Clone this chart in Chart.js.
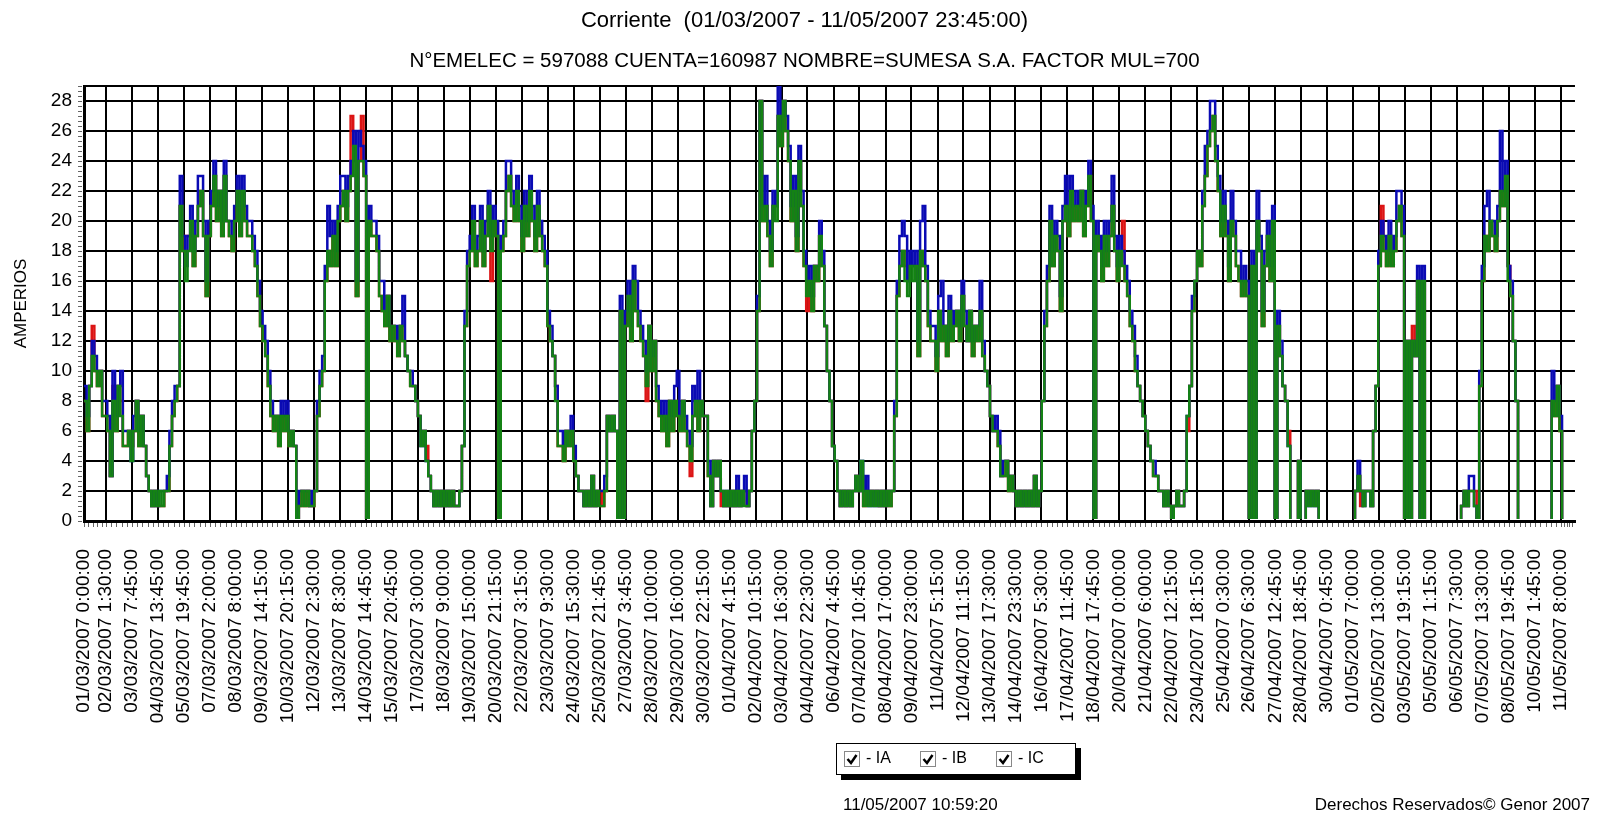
<!DOCTYPE html>
<html>
<head>
<meta charset="utf-8">
<title>Corriente</title>
<script src="https://cdn.jsdelivr.net/npm/chart.js@4.4.1/dist/chart.umd.min.js"></script>
<style>
    html, body { margin: 0; padding: 0; background: #fff; }
    #wrap { width: 1612px; height: 817px; }
</style>
</head>
<body>
<div id="wrap"><canvas id="corrienteChart" width="1612" height="817"></canvas></div>
<script>
// one reading every 3 hours, starting 01/03/2007 0:00
const SAMPLE_HOURS = 3;
const RANGE_HOURS = 1728;

// IC (green)
const ic = [
    8,6,9,11,10,9,10,7, 7,6,3,8,6,9,7,5, 5,6,4,6,8,5,7,5, 3,2,1,2,1,2,1,2,
    2,5,7,8,9,21,18,16, 18,20,17,19,21,22,19,15, 19,21,23,20,22,19,23,20, 19,18,20,22,19,22,20,19,
    19,18,17,15,13,12,11,9, 7,6,7,5,7,6,7,5, 6,5,0,1,2,1,2,1, 1,2,7,9,10,16,18,17,
    19,17,20,21,22,20,22,23, 25,15,24,24,23,0,20,19, 19,18,15,14,13,15,12,13, 12,11,13,12,11,10,9,9,
    8,7,5,6,4,3,2,1, 2,1,2,1,2,1,2,1, 1,2,5,13,17,18,20,17, 18,20,17,19,21,18,20,19,
    0,18,19,22,23,21,20,22, 20,18,21,19,22,20,18,21, 19,18,17,13,12,11,8,5, 5,4,6,5,6,4,3,2,
    2,1,2,1,3,1,2,1, 1,2,7,6,7,6,0,14, 0,13,15,12,16,14,13,12, 11,9,13,10,12,8,7,6,
    7,5,8,6,8,7,6,8, 6,5,4,7,8,6,8,7, 7,3,1,4,3,4,2,1, 2,1,2,1,2,1,2,1,
    1,2,6,8,14,28,20,21, 19,17,21,20,27,25,28,26, 24,20,22,18,24,21,17,15, 16,14,17,16,19,17,13,10,
    8,5,4,2,1,2,1,2, 1,2,3,2,4,1,2,1, 2,1,2,1,2,1,2,1, 2,7,15,17,18,16,15,17,
    16,17,11,18,17,16,13,12, 12,10,14,12,13,11,14,12, 13,14,12,15,13,12,14,11, 13,12,14,11,10,9,7,6,
    6,5,3,3,4,2,3,2, 1,2,1,2,1,2,1,3, 1,2,8,13,16,20,17,19, 18,14,20,21,19,22,20,21,
    20,22,19,21,23,20,0,19, 18,16,19,17,19,21,18,16, 18,17,16,15,13,12,10,9, 8,7,6,5,4,3,3,2,
    2,1,2,1,0,1,2,1, 1,2,7,9,14,16,18,17, 21,23,25,26,27,24,22,19, 21,19,16,20,19,17,16,15,
    16,15,0,17,0,20,18,13, 17,19,16,20,0,13,11,9, 8,5,0,0,0,4,0,0, 2,1,2,1,2,0,0,0,
    0,0,0,0,0,0,0,0, 0,0,0,2,3,2,1,2, 2,1,6,9,17,19,18,17, 19,17,18,20,21,19,0,12,
    0,12,11,16,0,16,0,0, 0,0,0,0,0,0,0,0, 0,0,0,0,1,2,1,2, 2,1,0,9,16,19,18,20,
    19,18,20,22,21,23,16,15, 12,8,0,0,0,0,0,0, 0,0,0,0,0,0,0,8, 7,9,6,0,0,0,0,0
];

// IB (blue)
const ib = [
    9,7,9,12,11,10,10,8, 8,7,3,10,7,9,10,6, 6,6,4,7,8,6,7,5, 3,2,1,2,1,2,2,2,
    3,6,8,9,9,23,19,17, 19,21,18,20,23,23,20,16, 20,22,24,21,22,20,24,20, 20,19,21,23,20,23,21,20,
    20,19,18,16,14,13,12,10, 8,7,7,6,8,7,8,6, 6,5,0,2,2,2,2,1, 2,2,8,10,11,17,21,19,
    20,18,21,23,23,21,23,24, 26,16,26,25,24,0,21,20, 20,19,16,16,14,15,13,13, 13,12,13,15,11,10,10,9,
    8,7,5,6,4,3,2,1, 2,1,2,1,2,1,2,1, 1,2,5,14,18,19,21,18, 19,21,18,20,22,19,21,20,
    0,19,20,24,24,22,21,23, 21,19,22,20,23,21,19,22, 20,19,18,14,13,11,9,6, 6,5,6,6,7,5,3,2,
    2,1,2,1,3,1,2,2, 2,3,7,6,7,6,0,15, 0,14,16,13,17,16,14,13, 12,10,13,11,12,9,8,7,
    8,6,8,7,9,10,7,8, 7,6,5,9,8,10,8,7, 7,4,1,4,3,4,2,1, 2,1,2,1,3,1,2,3,
    1,2,6,8,15,28,21,23, 20,18,22,21,29,26,28,27, 25,21,23,19,25,22,18,16, 17,15,17,17,20,18,13,10,
    8,5,4,2,1,2,1,2, 1,2,3,2,4,2,3,1, 2,1,2,1,2,1,2,2, 2,8,16,19,20,19,16,18,
    17,18,12,20,21,17,14,13, 13,11,15,16,13,12,15,13, 14,14,13,16,14,12,14,12, 13,13,16,12,10,9,7,6,
    7,6,3,4,4,3,3,2, 1,2,1,2,1,2,1,3, 1,2,8,14,17,21,18,20, 19,15,21,23,20,23,21,22,
    21,22,20,22,24,21,0,20, 19,17,20,18,20,23,19,17, 19,18,17,16,14,13,11,9, 8,7,6,5,4,4,3,2,
    2,1,2,1,0,1,2,1, 1,2,7,9,15,16,18,18, 22,25,26,28,28,25,23,20, 22,20,17,22,20,18,18,16,
    17,16,0,18,0,22,19,14, 18,20,17,21,0,14,12,9, 8,5,0,0,0,4,0,0, 2,1,2,1,2,0,0,0,
    0,0,0,0,0,0,0,0, 0,0,0,2,4,2,1,2, 2,1,6,9,18,20,19,18, 20,18,19,22,22,21,0,12,
    0,12,11,17,0,17,0,0, 0,0,0,0,0,0,0,0, 0,0,0,0,1,2,1,3, 3,1,0,10,17,21,22,20,
    20,19,21,26,22,24,17,16, 12,8,0,0,0,0,0,0, 0,0,0,0,0,0,0,10, 8,9,7,0,0,0,0,0
];

// IA (red)
const ia = [
    8,6,9,13,10,9,10,7, 7,6,3,9,6,9,8,5, 5,6,5,6,8,5,7,5, 3,2,1,2,1,1,1,2,
    2,5,7,8,9,21,18,19, 19,19,17,19,21,22,19,15, 19,21,23,20,22,19,23,20, 19,18,20,22,19,22,20,19,
    19,18,17,15,13,12,11,9, 7,6,7,5,7,6,7,5, 6,5,0,1,2,1,2,1, 1,2,7,9,10,16,18,17,
    19,17,20,21,22,20,22,27, 25,15,24,27,23,0,20,19, 19,18,15,14,13,15,12,13, 12,11,13,12,11,10,9,9,
    8,7,6,6,5,3,2,1, 2,1,2,1,2,1,2,1, 1,2,5,13,17,18,20,17, 18,20,17,19,21,16,20,19,
    0,18,19,22,23,21,20,22, 20,18,21,19,22,20,18,21, 19,18,17,13,12,11,9,5, 5,4,6,5,6,4,3,2,
    2,1,2,1,3,1,2,2, 1,2,7,6,7,6,0,14, 0,13,15,12,16,14,13,12, 11,8,13,10,12,8,7,6,
    7,5,8,6,8,7,6,8, 6,5,3,7,8,6,8,7, 7,3,1,4,3,4,1,1, 1,1,2,1,2,1,2,2,
    1,2,6,8,14,28,20,21, 19,17,21,21,27,25,28,26, 24,20,22,18,24,21,17,14, 16,14,17,16,19,17,13,10,
    8,5,4,2,1,2,1,2, 1,2,3,2,3,1,2,2, 2,2,2,1,2,1,2,1, 2,7,15,17,18,17,16,17,
    17,17,11,18,17,16,13,12, 12,10,14,12,13,11,14,12, 13,14,12,15,13,12,14,11, 13,12,14,11,10,9,7,6,
    6,5,3,3,4,2,3,2, 1,2,1,2,1,2,1,3, 1,2,8,13,16,20,17,19, 18,14,20,21,19,22,20,21,
    20,22,19,21,23,20,0,19, 18,16,19,17,19,21,18,16, 18,20,16,15,13,12,10,9, 8,7,6,5,4,3,3,2,
    2,1,2,1,0,1,2,1, 1,2,6,9,14,16,18,17, 21,23,25,26,27,24,22,19, 21,19,16,20,19,17,16,15,
    16,15,0,17,0,20,18,13, 17,19,16,20,0,13,11,9, 8,6,0,0,0,4,0,0, 2,2,2,2,2,0,0,0,
    0,0,0,0,0,0,0,0, 0,0,0,2,3,1,2,2, 2,1,6,9,17,21,18,17, 19,17,18,20,21,19,0,12,
    0,13,11,16,0,16,0,0, 0,0,0,0,0,0,0,0, 0,0,0,0,1,2,1,2, 2,2,0,9,16,19,18,20,
    19,18,20,22,21,23,17,15, 12,8,0,0,0,0,0,0, 0,0,0,0,0,0,0,8, 7,9,6,0,0,0,0,0
];

const xTickLabels = [
    "01/03/2007 0:00:00", "02/03/2007 1:30:00", "03/03/2007 7:45:00", "04/03/2007 13:45:00",
    "05/03/2007 19:45:00", "07/03/2007 2:00:00", "08/03/2007 8:00:00", "09/03/2007 14:15:00",
    "10/03/2007 20:15:00", "12/03/2007 2:30:00", "13/03/2007 8:30:00", "14/03/2007 14:45:00",
    "15/03/2007 20:45:00", "17/03/2007 3:00:00", "18/03/2007 9:00:00", "19/03/2007 15:00:00",
    "20/03/2007 21:15:00", "22/03/2007 3:15:00", "23/03/2007 9:30:00", "24/03/2007 15:30:00",
    "25/03/2007 21:45:00", "27/03/2007 3:45:00", "28/03/2007 10:00:00", "29/03/2007 16:00:00",
    "30/03/2007 22:15:00", "01/04/2007 4:15:00", "02/04/2007 10:15:00", "03/04/2007 16:30:00",
    "04/04/2007 22:30:00", "06/04/2007 4:45:00", "07/04/2007 10:45:00", "08/04/2007 17:00:00",
    "09/04/2007 23:00:00", "11/04/2007 5:15:00", "12/04/2007 11:15:00", "13/04/2007 17:30:00",
    "14/04/2007 23:30:00", "16/04/2007 5:30:00", "17/04/2007 11:45:00", "18/04/2007 17:45:00",
    "20/04/2007 0:00:00", "21/04/2007 6:00:00", "22/04/2007 12:15:00", "23/04/2007 18:15:00",
    "25/04/2007 0:30:00", "26/04/2007 6:30:00", "27/04/2007 12:45:00", "28/04/2007 18:45:00",
    "30/04/2007 0:45:00", "01/05/2007 7:00:00", "02/05/2007 13:00:00", "03/05/2007 19:15:00",
    "05/05/2007 1:15:00", "06/05/2007 7:30:00", "07/05/2007 13:30:00", "08/05/2007 19:45:00",
    "10/05/2007 1:45:00", "11/05/2007 8:00:00"
];

const yTicks = [0, 2, 4, 6, 8, 10, 12, 14, 16, 18, 20, 22, 24, 26, 28];
const Y_MAX = 29;

const seriesNames = ["IA", "IB", "IC"];
const seriesColors = ["#dc1414", "#0a0ab4", "#148214"];

const FONT = "'Liberation Sans', Arial, sans-serif";

function hoursFromStart(label) {
    const parts = label.split(" ");
    const d = parts[0].split("/").map(Number);
    const t = parts[1].split(":").map(Number);
    return (Date.UTC(d[2], d[1] - 1, d[0], t[0], t[1]) - Date.UTC(2007, 2, 1)) / 3600000;
}

const tickHours = xTickLabels.map(hoursFromStart);

function toPoints(values) {
    return values.map(function (v, i) {
        return { x: i * SAMPLE_HOURS, y: v };
    });
}

// minor ticks, legend box and footer
const decorPlugin = {
    id: "decor",
    afterDraw: function (chart) {
        const ctx = chart.ctx;
        const area = chart.chartArea;
        const xs = chart.scales.x;
        const ys = chart.scales.y;

        ctx.save();
        ctx.strokeStyle = "#666";
        ctx.lineWidth = 1;
        ctx.beginPath();
        const marks = tickHours.concat([RANGE_HOURS]);
        for (let i = 0; i < marks.length - 1; i++) {
            for (let k = 0; k < 5; k++) {
                const px = Math.round(xs.getPixelForValue(marks[i] + (marks[i + 1] - marks[i]) * k / 5)) + 0.5;
                ctx.moveTo(px, area.bottom + 2);
                ctx.lineTo(px, area.bottom + 6);
            }
        }
        for (let v = 0; v < Y_MAX; v += 1 / 3) {
            const py = Math.round(ys.getPixelForValue(v)) + 0.5;
            ctx.moveTo(area.left - 6, py);
            ctx.lineTo(area.left - 2, py);
        }
        ctx.stroke();

        // legend
        const bx = 836, by = 743, bw = 240, bh = 32;
        ctx.fillStyle = "#000";
        ctx.fillRect(bx + 5, by + 5, bw, bh);
        ctx.fillStyle = "#fff";
        ctx.fillRect(bx, by, bw, bh);
        ctx.strokeStyle = "#000";
        ctx.strokeRect(bx + 0.5, by + 0.5, bw - 1, bh - 1);

        ctx.font = "16px " + FONT;
        ctx.textBaseline = "middle";
        ctx.textAlign = "left";
        seriesNames.forEach(function (name, i) {
            const cx = bx + 8 + i * 76;
            const cy = by + 8;
            ctx.fillStyle = "#fff";
            ctx.fillRect(cx, cy, 16, 16);
            ctx.strokeStyle = "#888";
            ctx.lineWidth = 1;
            ctx.strokeRect(cx + 0.5, cy + 0.5, 15, 15);
            ctx.strokeStyle = "#000";
            ctx.lineWidth = 2.5;
            ctx.beginPath();
            ctx.moveTo(cx + 3.5, cy + 8);
            ctx.lineTo(cx + 7, cy + 12);
            ctx.lineTo(cx + 12.5, cy + 4);
            ctx.stroke();
            ctx.fillStyle = "#000";
            ctx.fillText("- " + name, cx + 22, cy + 8);
        });

        // footer
        ctx.font = "17px " + FONT;
        ctx.fillStyle = "#000";
        ctx.textAlign = "left";
        ctx.fillText("11/05/2007 10:59:20", 843, 805);
        ctx.textAlign = "right";
        ctx.fillText("Derechos Reservados\u00a9 Genor 2007", 1590, 805);
        ctx.restore();
    }
};

document.addEventListener("DOMContentLoaded", function () {
    const canvas = document.getElementById("corrienteChart");
    const series = [ia, ib, ic];

    new Chart(canvas, {
        type: "line",
        data: {
            datasets: series.map(function (values, i) {
                return {
                    label: seriesNames[i],
                    data: toPoints(values),
                    borderColor: seriesColors[i],
                    backgroundColor: seriesColors[i],
                    borderWidth: 2.5,
                    stepped: true,
                    pointRadius: 0,
                    fill: false,
                    order: 3 - i,
                    clip: { left: 0, top: 0, right: 0, bottom: -2 },
                };
            }),
        },
        options: {
            responsive: false,
            animation: false,
            devicePixelRatio: 1,
            layout: {
                padding: { top: 0, right: 3, bottom: 0, left: 0 },
            },
            plugins: {
                legend: { display: false },
                tooltip: { enabled: false },
                title: {
                    display: true,
                    text: "Corriente  (01/03/2007 - 11/05/2007 23:45:00)",
                    color: "#000",
                    font: { family: FONT, size: 22, weight: "normal" },
                    padding: { top: 8, bottom: 4 },
                },
                subtitle: {
                    display: true,
                    text: "N\u00b0EMELEC = 597088 CUENTA=160987 NOMBRE=SUMESA S.A. FACTOR MUL=700",
                    color: "#000",
                    font: { family: FONT, size: 20.5, weight: "normal" },
                    padding: { top: 11, bottom: 12 },
                },
            },
            scales: {
                x: {
                    type: "linear",
                    min: 0,
                    max: RANGE_HOURS,
                    afterBuildTicks: function (scale) {
                        scale.ticks = tickHours.map(function (h) {
                            return { value: h };
                        });
                    },
                    afterFit: function (scale) {
                        scale.height = 296;
                    },
                    grid: { color: "#000", lineWidth: 2, drawTicks: false },
                    border: { color: "#000", width: 3 },
                    ticks: {
                        autoSkip: false,
                        minRotation: 90,
                        maxRotation: 90,
                        padding: 28,
                        color: "#000",
                        font: { family: FONT, size: 19 },
                        callback: function (value, index) {
                            return xTickLabels[index];
                        },
                    },
                },
                y: {
                    min: 0,
                    max: Y_MAX,
                    afterBuildTicks: function (scale) {
                        scale.ticks = yTicks.concat([Y_MAX]).map(function (v) {
                            return { value: v };
                        });
                    },
                    afterFit: function (scale) {
                        scale.width = 84;
                    },
                    grid: { color: "#000", lineWidth: 2, drawTicks: false },
                    border: { color: "#000", width: 3 },
                    ticks: {
                        padding: 12,
                        color: "#000",
                        font: { family: FONT, size: 19 },
                        callback: function (value) {
                            return value === Y_MAX ? "" : value;
                        },
                    },
                    title: {
                        display: true,
                        text: "AMPERIOS",
                        color: "#000",
                        font: { family: FONT, size: 17 },
                        padding: { top: 11, bottom: 0 },
                    },
                },
            },
        },
        plugins: [decorPlugin],
    });
});
</script>
</body>
</html>
